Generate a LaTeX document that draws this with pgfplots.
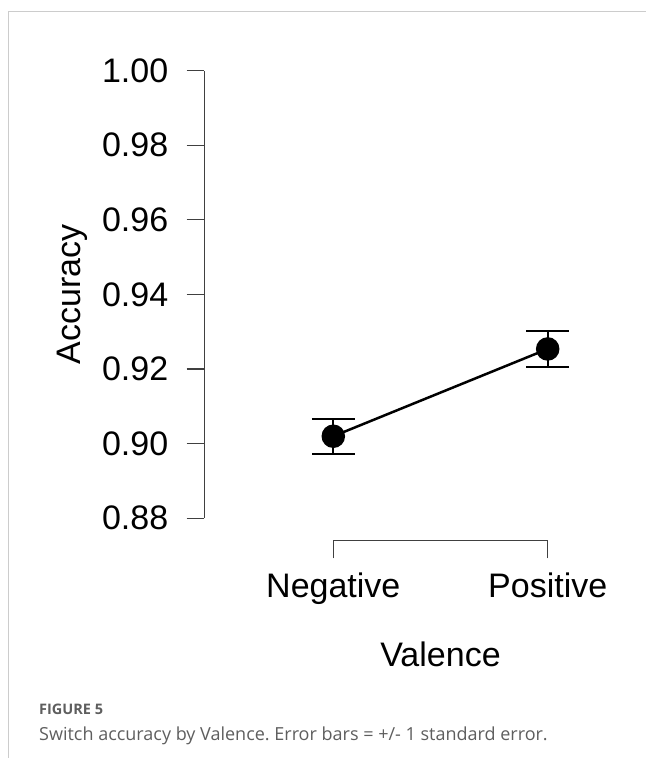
\documentclass[border=0pt]{standalone}
\usepackage{pgfplots}
\pgfplotsset{compat=1.18}
\usepackage{fontspec}
\setmainfont{Liberation Sans}
\newfontfamily\capfont{Open Sans}
\definecolor{frame}{HTML}{CCCCCC}
\definecolor{capgrey}{HTML}{5E5E5E}
\frenchspacing
\begin{document}
\begin{tikzpicture}[x=1bp,y=1bp]
\path[use as bounding box] (0,0) rectangle (646,758);
\draw[frame, line width=1bp] (8,0) -- (8,746) -- (646,746);
\begin{axis}[
  at={(333.3bp,239.7bp)}, anchor=south west,
  scale only axis, width=214.4bp, height=447.6bp,
  xmin=0, xmax=1, ymin=0.88, ymax=1.00,
  clip=false,
  axis lines=left,
  axis x line shift=22.4bp,
  axis y line shift=129bp,
  axis line style={-, black!75, line width=1.2bp},
  every tick/.style={black!75, line width=1.2bp},
  tick align=outside,
  major tick length=17.6bp,
  xtick={0,1}, xticklabels={Negative,Positive},
  ytick={0.88,0.90,0.92,0.94,0.96,0.98,1.00},
  yticklabel style={xshift=-15bp, /pgf/number format/fixed, /pgf/number format/fixed zerofill, /pgf/number format/precision=2, /pgf/number format/assume math mode=true},
  xticklabel style={yshift=-11bp},
  ticklabel style={font=\fontsize{34bp}{40bp}\selectfont},
  label style={font=\fontsize{34bp}{40bp}\selectfont},
  xlabel={Valence}, ylabel={Accuracy},
  xlabel style={at={(axis description cs:0.5,-0.33)}, anchor=base},
  ylabel style={at={(axis description cs:-1.1814,0.5)}, anchor=base, rotate=0},
]
\addplot[black, line width=2.5bp, mark=*, mark size=10.5bp,
  error bars/.cd, y dir=both, y explicit,
  error bar style={line width=2bp, black},
  error mark options={rotate=90, mark size=21.5bp, line width=2bp, black}]
  coordinates {(0,0.9020) +- (0,0.0047) (1,0.9254) +- (0,0.0048)};
\end{axis}
\node[anchor=base west, inner sep=0pt, text=capgrey, font=\capfont\bfseries\fontsize{14.5bp}{17bp}\selectfont] at (39,43) {FIGURE 5};
\node[anchor=base west, inner sep=0pt, text=capgrey, font=\capfont\fontsize{18bp}{21bp}\selectfont] at (39,17) {Switch accuracy by Valence. Error bars = +/- 1 standard error.};
\end{tikzpicture}
\end{document}
